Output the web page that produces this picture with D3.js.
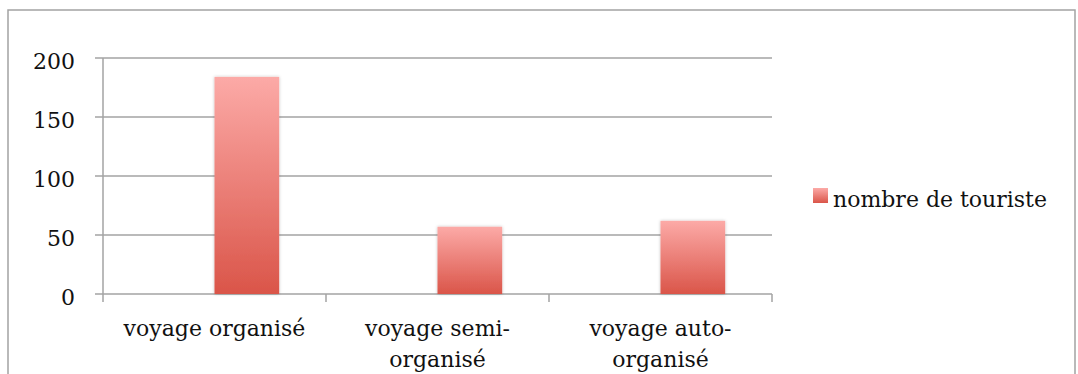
<!DOCTYPE html>
<html>
<head>
<meta charset="utf-8">
<script src="https://cdn.jsdelivr.net/npm/d3@7"></script>
<style>
  html, body { margin: 0; padding: 0; background: #fff; }
  svg { display: block; }
  text { font-family: "DejaVu Serif", "Liberation Serif", serif; fill: #111; }
</style>
</head>
<body>
<svg id="chart" width="1078" height="374"></svg>
<script>
// Tourist counts by type of trip
const categories = ["voyage organisé", "voyage semi-organisé", "voyage auto-organisé"];
const touristCounts = [184, 57, 62];
const seriesName = "nombre de touriste";
const yTicks = [0, 50, 100, 150, 200];

const svg = d3.select("#chart");
const plot = { left: 103, right: 772, top: 58, bottom: 294 };

// Frame around the chart area
svg.append("path")
  .attr("d", "M8,374 V10 H1075 V374")
  .attr("fill", "none")
  .attr("stroke", "#a3a3a3")
  .attr("stroke-width", 1.5);

const defs = svg.append("defs");
const grad = defs.append("linearGradient")
  .attr("id", "barFill").attr("x1", 0).attr("y1", 0).attr("x2", 0).attr("y2", 1);
grad.append("stop").attr("offset", "0%").attr("stop-color", "#fcaaa7");
grad.append("stop").attr("offset", "100%").attr("stop-color", "#da5549");

const legendGrad = defs.append("linearGradient")
  .attr("id", "legendFill").attr("x1", 0).attr("y1", 0).attr("x2", 0).attr("y2", 1);
legendGrad.append("stop").attr("offset", "0%").attr("stop-color", "#fcaaa7");
legendGrad.append("stop").attr("offset", "100%").attr("stop-color", "#da5549");

const shadow = defs.append("filter").attr("id", "barShadow")
  .attr("x", "-20%").attr("y", "-10%").attr("width", "140%").attr("height", "120%");
shadow.append("feDropShadow")
  .attr("dx", 0).attr("dy", 0).attr("stdDeviation", 1.6)
  .attr("flood-color", "#000").attr("flood-opacity", 0.25);

const x = d3.scaleBand().domain(categories).range([plot.left, plot.right]).padding(0);
const y = d3.scaleLinear().domain([0, 200]).range([plot.bottom, plot.top]);

// Horizontal gridlines with short ticks to the left of the axis
svg.append("g")
  .selectAll("line")
  .data(yTicks)
  .join("line")
  .attr("x1", plot.left - 8)
  .attr("x2", plot.right)
  .attr("y1", d => y(d))
  .attr("y2", d => y(d))
  .attr("stroke", "#a3a3a3")
  .attr("stroke-width", 1.5);

// Y axis line
svg.append("line")
  .attr("x1", plot.left).attr("x2", plot.left)
  .attr("y1", y(200)).attr("y2", y(0))
  .attr("stroke", "#a3a3a3").attr("stroke-width", 1.5);

// Y tick labels
svg.append("g")
  .selectAll("text")
  .data(yTicks)
  .join("text")
  .attr("x", 75)
  .attr("y", d => y(d) + 11)
  .attr("text-anchor", "end")
  .attr("font-size", 22)
  .text(d => d);

// Category boundary ticks under the x axis
const boundaries = categories.map(c => x(c)).concat([plot.right]);
svg.append("g")
  .selectAll("line")
  .data(boundaries)
  .join("line")
  .attr("x1", d => d).attr("x2", d => d)
  .attr("y1", y(0)).attr("y2", y(0) + 8)
  .attr("stroke", "#a3a3a3").attr("stroke-width", 1.5);

// Bars, placed in the right half of each category band
const bw = x.bandwidth();
svg.append("g")
  .selectAll("rect")
  .data(categories.map((c, i) => ({ c, v: touristCounts[i] })))
  .join("rect")
  .attr("x", d => x(d.c) + bw * 0.5)
  .attr("width", bw * 0.29)
  .attr("y", d => y(d.v))
  .attr("height", d => y(0) - y(d.v))
  .attr("fill", "url(#barFill)")
  .attr("filter", "url(#barShadow)");

// Category labels, wrapped after a hyphen
svg.append("g")
  .selectAll("text")
  .data(categories)
  .join("text")
  .attr("text-anchor", "middle")
  .attr("font-size", 22)
  .each(function (c) {
    const parts = c.includes("-") ? [c.slice(0, c.indexOf("-") + 1), c.slice(c.indexOf("-") + 1)] : [c];
    const t = d3.select(this);
    parts.forEach((p, i) => {
      t.append("tspan")
        .attr("x", x(c) + bw / 2)
        .attr("y", 336 + i * 31)
        .text(p);
    });
  });

// Legend
svg.append("rect")
  .attr("x", 813).attr("y", 188)
  .attr("width", 15).attr("height", 15)
  .attr("fill", "url(#legendFill)");
svg.append("text")
  .attr("x", 833).attr("y", 207)
  .attr("font-size", 22)
  .text(seriesName);
</script>
</body>
</html>
